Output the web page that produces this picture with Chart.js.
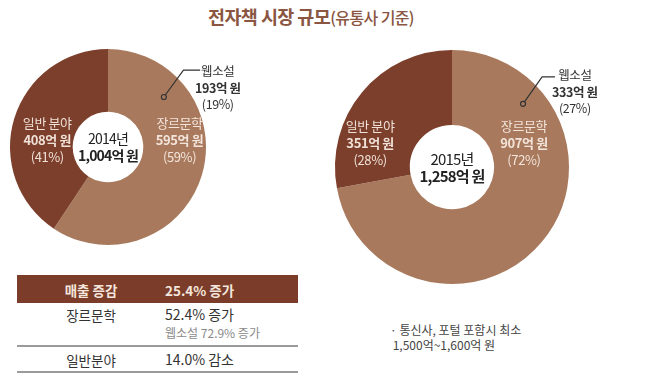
<!DOCTYPE html>
<html>
<head>
<meta charset="utf-8">
<script src="https://cdn.jsdelivr.net/npm/chart.js@4"></script>
<style>
  body { margin: 0; width: 647px; height: 382px; background: #fff; position: relative; overflow: hidden;
         font-family: "Noto Sans CJK KR", "Noto Sans", sans-serif; }
  .title { position: absolute; left: 0; width: 622px; top: 3px; text-align: center; color: #8a5541;
           font-size: 18.5px; font-weight: 700; letter-spacing: -0.6px; }
  .title span { font-size: 16px; font-weight: 500; }
  .box { position: absolute; }
  .tbl { position: absolute; left: 17px; top: 275px; width: 281px; font-size: 13.5px; color: #333; }
  .hdr { height: 28px; background: #7b3c2a; color: #f4e6dc; font-weight: 700; position: relative; }
  .cell { position: absolute; }
  .line { position: absolute; left: 0; width: 281px; height: 2px; background: #9a9a9a; }
  .note { position: absolute; left: 390px; top: 322px; font-size: 12px; color: #444; line-height: 15px; }
</style>
</head>
<body>
<div class="title">전자책 시장 규모<span>(유통사 기준)</span></div>

<div class="box" style="left:0;top:40px;width:300px;height:220px"><canvas id="c2014"></canvas></div>
<div class="box" style="left:300px;top:40px;width:347px;height:270px"><canvas id="c2015"></canvas></div>

<div class="tbl">
  <div class="hdr">
    <div class="cell" style="left:44px;top:5px;width:60px;text-align:center">매출 증감</div>
    <div class="cell" style="left:148px;top:5px">25.4% 증가</div>
  </div>
  <div class="cell" style="left:44px;top:30px;width:60px;text-align:center">장르문학</div>
  <div class="cell" style="left:148px;top:29px;font-size:14px">52.4% 증가</div>
  <div class="cell" style="left:148px;top:49px;font-size:12px;color:#8a8a8a">웹소설 72.9% 증가</div>
  <div class="line" style="top:70px"></div>
  <div class="cell" style="left:44px;top:75px;width:60px;text-align:center">일반분야</div>
  <div class="cell" style="left:148px;top:74px;font-size:14px">14.0% 감소</div>
  <div class="line" style="top:96px"></div>
</div>

<div class="note">· 통신사, 포털 포함시 최소<br>&nbsp;1,500억~1,600억 원</div>

<script>
const categories = ['장르문학', '일반 분야'];
const values2014 = [595, 408];
const values2015 = [907, 351];
const pct2014 = ['59%', '41%'];
const pct2015 = ['72%', '28%'];
const totals = ['1,004억 원', '1,258억 원'];
const years = ['2014년', '2015년'];
const webNovel2014 = ['웹소설', '193억 원', '(19%)'];
const webNovel2015 = ['웹소설', '333억 원', '(27%)'];
const colors = ['#a8795c', '#7c3f2b'];

// labels drawn relative to the arc centre, offsets in units of the outer radius
const labelPlugin = {
  id: 'labels',
  afterDatasetsDraw(chart, args, opts) {
    const ctx = chart.ctx;
    const arc = chart.getDatasetMeta(0).data[0];
    const cx = arc.x, cy = arc.y, r = arc.outerRadius;
    const vals = chart.data.datasets[0].data;
    ctx.save();
    ctx.textAlign = 'center';
    ctx.textBaseline = 'middle';
    ctx.letterSpacing = '-0.4px';
    // slice labels
    opts.slices.forEach((s, i) => {
      const x = cx + s.dx * r, y = cy + s.dy * r;
      ctx.fillStyle = 'rgba(250,238,230,0.92)';
      ctx.font = '400 13px "Noto Sans CJK KR"';
      ctx.fillText(categories[i], x, y - 17);
      ctx.font = '700 13px "Noto Sans CJK KR"';
      ctx.fillText(vals[i] + '억 원', x, y);
      ctx.font = '400 13px "Noto Sans CJK KR"';
      ctx.fillText('(' + opts.pct[i] + ')', x, y + 17);
    });
    // centre
    ctx.fillStyle = '#222';
    ctx.letterSpacing = '-0.8px';
    ctx.font = '400 ' + opts.centerSize + 'px "Noto Sans CJK KR"';
    ctx.fillText(opts.year, cx, cy - 8);
    ctx.font = '700 ' + opts.centerSize + 'px "Noto Sans CJK KR"';
    ctx.fillText(opts.total, cx, cy + 9);
    ctx.letterSpacing = '-0.4px';
    // 웹소설 callout
    const w = opts.web;
    ctx.strokeStyle = '#333';
    ctx.lineWidth = 1.2;
    ctx.beginPath();
    ctx.moveTo(cx + w.dot[0] * r, cy + w.dot[1] * r);
    ctx.lineTo(cx + w.elbow[0] * r, cy + w.elbow[1] * r);
    ctx.lineTo(cx + w.end * r, cy + w.elbow[1] * r);
    ctx.stroke();
    ctx.beginPath();
    ctx.arc(cx + w.dot[0] * r, cy + w.dot[1] * r, 2.5, 0, Math.PI * 2);
    ctx.fillStyle = colors[0];
    ctx.fill();
    ctx.stroke();
    const tx = cx + w.text[0] * r, ty = cy + w.text[1] * r;
    ctx.fillStyle = '#333';
    ctx.font = '400 12.5px "Noto Sans CJK KR"';
    ctx.fillText(w.lines[0], tx, ty);
    ctx.font = '700 12.5px "Noto Sans CJK KR"';
    ctx.fillText(w.lines[1], tx, ty + 16.5);
    ctx.font = '400 12.5px "Noto Sans CJK KR"';
    ctx.fillText(w.lines[2], tx, ty + 33);
    ctx.restore();
  }
};

function makeDonut(id, values, cutout, padding, opts) {
  return new Chart(document.getElementById(id), {
    type: 'doughnut',
    data: { labels: categories, datasets: [{ data: values, backgroundColor: colors, borderWidth: 0 }] },
    options: {
      responsive: true,
      maintainAspectRatio: false,
      animation: false,
      cutout: cutout,
      layout: { padding: padding },
      plugins: { legend: { display: false }, tooltip: { enabled: false }, labels: opts }
    },
    plugins: [labelPlugin]
  });
}

makeDonut('c2014', values2014, '36%', { left: 10, right: 94, top: 9, bottom: 15 }, {
  pct: pct2014, year: years[0], total: totals[0], centerSize: 14,
  slices: [{ dx: 0.73, dy: -0.07 }, { dx: -0.62, dy: -0.07 }],
  web: { dot: [0.57, -0.51], elbow: [0.77, -0.785], end: 0.94, text: [1.12, -0.77], lines: webNovel2014 }
});

makeDonut('c2015', values2015, '36%', { left: 35, right: 78, top: 10, bottom: 26 }, {
  pct: pct2015, year: years[1], total: totals[1], centerSize: 15,
  slices: [{ dx: 0.615, dy: -0.205 }, { dx: -0.70, dy: -0.205 }],
  web: { dot: [0.607, -0.54], elbow: [0.77, -0.77], end: 0.88, text: [1.05, -0.78], lines: webNovel2015 }
});
</script>
</body>
</html>
